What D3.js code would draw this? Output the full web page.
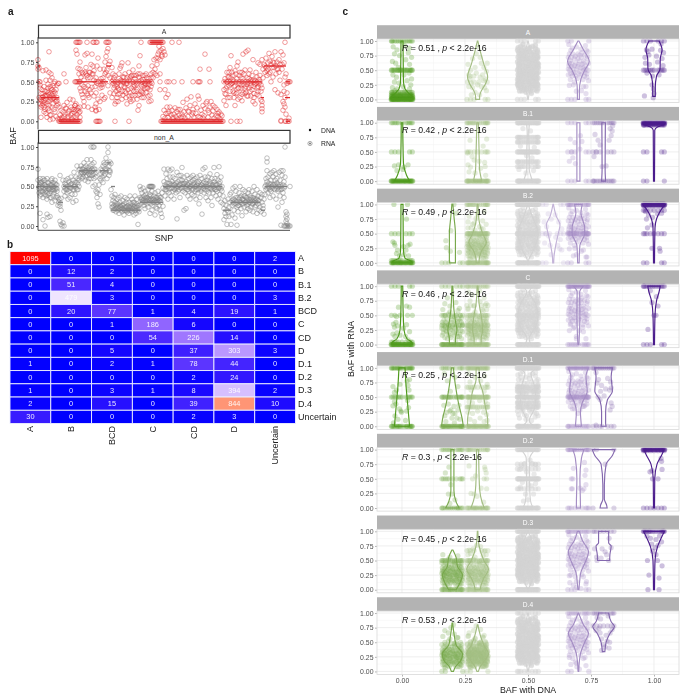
<!DOCTYPE html>
<html><head><meta charset="utf-8">
<script src="https://cdn.jsdelivr.net/npm/d3@7"></script>
<style>html,body{margin:0;padding:0;background:#fff}svg{display:block;filter:blur(.4px);font-family:"Liberation Sans",Arial,sans-serif}</style>
</head><body><svg id="c" width="689" height="700"></svg>
<script>
// ---------- panel b ----------
const heatRows=["A","B","B.1","B.2","BCD","C","CD","D","D.1","D.2","D.3","D.4","Uncertain"];
const heatCols=["A","B","BCD","C","CD","D","Uncertain"];
const heatValues=[[1095,0,0,0,0,0,2],[0,12,2,0,0,0,0],[0,51,4,0,0,0,0],[0,479,3,0,0,0,3],[0,20,77,1,4,19,1],[0,0,1,186,6,0,0],[0,0,0,54,226,14,0],[0,0,5,0,37,303,3],[1,0,2,1,78,44,0],[0,0,0,0,2,24,0],[1,0,3,1,8,394,2],[2,0,15,0,39,844,10],[30,0,0,0,2,3,0]];
// ---------- panel a: SNP rank, BAF% pairs ----------
const dnaA=[[0,2,50],[0,2,70],[3,21,30],[21,42,0],[39,59,50],[62,70,50],[68,73,70],[73,114,50],[112,125,100],[123,185,0],[185,224,50],[223,226,30],[226,248,70],[247,252,30],[248,252,50],[248,252,0]];
const dnaN=[[0,20,50],[20,25,30],[25,40,50],[41,59,70],[62,70,70],[69,73,80],[73,77,50],[73,102,20],[102,125,30],[125,184,50],[185,193,20],[193,222,30],[223,227,20],[227,249,50],[248,252,0]];
const zeroA=[21,22,23,24,25,26,27,28,29,30,31,32,33,34,35,36,37,38,39,40,41,42,58,59,60,61,62,77,91,123,124,125,126,127,128,129,130,131,132,133,134,135,136,137,138,139,140,141,142,143,144,145,146,147,148,149,150,151,152,153,154,155,156,157,158,159,160,161,162,163,164,165,166,167,168,169,170,171,172,173,174,175,176,177,178,179,180,181,182,183,184,185,193,199,202,243,247,248,250,251];
const oneA=[38,39,40,41,42,49,55,56,58,59,68,69,70,71,103,112,113,114,115,116,117,118,119,120,121,122,123,124,125,134,141,247];
const halfA=[1,2,28,37,38,39,40,41,42,58,60,62,64,66,74,77,80,83,86,89,92,95,98,101,104,107,110,113,122,129,131,136,144,155,160,161,162,172,186,189,192,195,198,201,204,207,210,213,216,219,222,250,251,252];
const snpA=[0,78,0,70,0,66,1,68,2,46,2,42,3,35,4,30,4,25,5,22,3,18,6,18,7,24,8,28,9,32,10,25,11,20,12,30,13,36,14,28,15,22,16,30,5,64,8,65,11,62,13,60,14,55,15,45,16,48,17,50,18,40,19,46,20,48,21,48,9,5,8,10,11,13,13,8,15,3,16,15,17,12,18,6,19,20,20,3,12,2,11,88,5,35,7,32,9,38,11,34,13,42,15,35,17,28,19,30,6,44,8,52,10,47,12,44,14,40,16,38,18,25,20,22,21,18,6,12,3,5,2,28,4,40,7,38,10,42,12,52,
22,8,23,14,24,5,25,12,26,20,27,9,28,16,29,24,30,6,31,13,32,28,33,18,34,10,35,27,36,6,37,20,38,14,39,8,40,17,41,11,42,5,26,60,28,17,34,3,38,22,24,3,30,3,36,15,33,8,
40,67,41,60,42,66,43,56,44,46,45,60,46,52,47,62,48,68,49,58,50,45,51,62,52,55,53,36,54,60,55,70,56,64,57,44,58,55,59,48,42,42,43,38,44,34,45,30,46,25,47,38,48,42,49,35,50,33,51,30,52,40,53,72,54,85,55,60,56,32,57,18,58,22,59,70,60,28,61,15,62,25,42,18,46,19,50,18,54,15,58,13,40,14,47,84,49,86,42,75,38,90,39,85,44,62,46,44,48,60,50,55,52,62,54,43,56,52,58,36,60,80,58,14,37,20,36,12,
62,66,63,54,64,43,65,55,66,66,67,75,68,82,69,88,70,92,71,72,72,76,68,62,70,58,72,55,63,46,65,47,67,60,69,65,62,42,66,28,70,45,72,36,64,33,67,30,
74,68,75,60,76,55,77,45,78,38,79,30,80,25,81,60,82,67,83,70,84,74,85,50,86,44,87,38,88,30,89,22,90,74,91,62,92,55,93,42,94,33,95,65,96,58,97,45,98,38,99,28,100,14,101,70,102,60,103,52,104,44,105,36,106,30,107,58,108,47,109,42,110,32,111,25,74,30,76,35,78,25,80,42,82,35,84,28,86,56,88,47,90,40,92,28,94,58,96,46,98,58,100,60,102,34,104,30,106,45,108,60,110,42,75,48,77,22,79,44,81,40,83,52,85,33,87,60,89,55,91,32,93,25,95,27,97,33,99,40,101,20,103,38,105,58,107,48,109,55,111,47,113,26,114,48,112,40,113,55,102,83,
113,60,114,70,115,62,116,78,117,66,118,80,119,72,120,85,121,88,122,78,123,90,124,82,125,92,115,55,117,60,119,58,121,95,122,60,124,84,126,88,127,84,120,80,122,40,
126,14,127,4,128,10,129,18,130,5,131,12,132,18,133,8,134,14,135,5,136,9,137,17,138,6,139,12,140,3,141,8,142,15,143,5,144,9,145,24,146,12,147,4,148,17,149,28,150,6,151,12,152,20,153,31,154,8,155,15,156,5,157,22,158,10,159,17,160,32,161,28,162,5,163,14,164,9,165,20,166,7,167,16,168,23,169,25,170,5,171,11,172,18,173,25,174,8,175,13,176,4,177,18,178,7,179,15,180,6,181,12,182,3,183,9,184,7,127,40,130,34,128,30,162,66,171,66,167,85,
186,26,187,35,188,42,189,50,190,56,191,62,192,68,193,83,194,48,195,38,196,30,197,20,198,60,199,70,200,75,201,42,202,30,203,55,204,62,205,85,206,46,207,35,208,88,209,55,210,90,211,42,212,65,213,32,214,58,215,78,216,44,217,22,218,62,219,34,220,74,221,48,222,72,223,38,186,40,188,20,190,30,192,38,194,62,196,44,198,35,200,28,202,62,204,26,206,60,208,44,210,32,212,48,214,40,216,30,218,48,220,44,222,58,224,42,189,62,191,45,193,55,195,58,197,64,199,36,201,58,203,42,205,36,207,65,209,32,211,60,213,52,215,25,217,52,219,42,221,32,223,27,
224,78,225,66,226,72,227,62,228,80,229,58,230,74,231,86,232,62,233,72,234,82,235,56,236,68,237,88,238,60,239,75,240,36,241,62,242,52,243,88,244,72,245,84,246,46,247,56,248,60,225,55,227,70,229,64,231,60,233,50,235,75,237,40,239,66,241,78,243,34,245,25,247,30,249,48,224,25,224,16,224,12,224,20,245,14,246,22,247,18,248,9,246,38,249,36,251,4,243,1];
const snpAExtra=[1,30,3,27,5,31,6,26,8,33,9,22,10,36,12,27,14,33,15,29,17,36,19,26,2,22,4,20,7,15,10,16,12,8,14,18,
75,52,77,58,79,47,81,54,83,45,85,56,87,43,89,48,91,52,93,57,95,44,97,54,99,47,101,56,103,46,105,53,107,42,109,50,111,54,113,44,76,42,80,34,84,38,88,36,92,36,96,38,100,33,104,37,108,36,112,33,
187,54,189,44,191,56,193,47,195,52,197,45,199,54,201,48,203,46,205,54,207,42,209,47,211,54,213,45,215,52,217,47,219,56,221,53,223,46,188,34,192,30,196,36,200,42,204,34,208,37,212,38,216,35,220,38,
228,68,230,66,232,76,234,68,236,74,238,70,240,66,242,72,244,66,246,74,
125,6,130,10,135,3,140,15,145,6,150,13,155,11,160,6,165,4,170,14,175,20,180,10,22,3,26,6,30,10,34,15,38,5,42,12];
const halfN=[111,112,113,114,115,113,112,114,252];
const zeroN=[246,247,248,249,250,251,252];
const snpN=[0,72,0,58,1,50,1,42,2,60,2,38,2,16,3,54,3,48,4,44,4,56,5,36,5,60,6,52,6,46,7,40,7,58,8,50,8,44,9,34,9,60,10,55,10,47,11,41,11,54,12,36,12,48,13,44,13,58,14,52,14,30,14,60,15,46,15,38,16,50,16,42,17,32,17,58,18,48,18,36,19,44,19,52,5,8,7,0,9,15,10,11,12,12,2,52,3,40,4,50,6,58,8,38,10,39,11,47,13,36,15,55,17,46,19,38,
20,36,20,26,21,34,21,30,22,28,22,25,23,35,23,20,22,6,23,2,24,0,25,4,26,0,22,64,25,58,
26,50,26,44,27,54,27,38,28,58,28,46,29,50,29,42,30,60,30,34,31,56,31,44,32,52,32,36,33,48,33,62,34,54,34,40,35,30,35,58,36,46,36,68,37,52,37,40,38,62,38,32,39,55,39,76,40,60,40,46,41,71,41,50,41,58,
42,62,42,72,43,66,43,76,44,60,44,68,45,72,45,62,46,80,46,68,47,58,47,70,48,76,48,62,49,68,49,84,50,56,50,74,51,66,51,60,52,76,52,70,53,84,53,60,54,78,54,64,55,70,55,50,56,80,56,60,57,72,57,52,58,68,58,44,59,42,59,36,60,46,60,28,61,52,61,24,62,60,62,40,63,66,63,58,64,70,64,62,65,55,65,76,66,64,66,80,67,72,67,78,68,70,68,86,69,80,69,60,70,100,70,93,71,76,71,64,72,70,72,81,72,68,73,79,53,100,55,100,56,100,
73,46,74,38,74,28,75,32,75,24,76,36,76,20,77,30,77,40,78,26,78,18,79,34,79,24,80,20,80,28,81,36,81,16,82,24,82,30,83,20,83,38,84,26,84,18,85,32,85,22,86,28,86,14,87,36,87,20,88,24,88,30,89,18,89,34,90,26,90,20,91,30,91,16,92,38,92,24,93,20,93,28,94,34,94,18,95,26,95,22,96,30,96,14,97,20,97,38,98,24,98,16,99,28,99,34,100,20,100,2,101,26,101,18,
102,50,102,36,103,46,103,28,104,42,104,34,105,30,105,48,106,38,106,26,107,44,107,22,108,32,108,40,109,28,109,36,110,46,110,24,111,34,111,30,112,40,112,16,113,28,113,38,114,44,114,20,115,34,115,26,116,38,116,30,117,42,117,14,118,32,118,24,119,36,119,22,120,30,120,44,121,26,121,38,122,20,122,32,123,16,123,36,124,42,124,11,125,25,125,48,
126,72,126,56,127,46,127,38,128,66,128,50,129,60,129,44,130,72,130,34,131,54,131,42,132,70,132,62,133,48,133,38,134,56,134,72,135,44,135,62,136,52,136,34,137,60,137,46,138,50,138,42,139,68,139,9,140,56,140,44,141,64,141,52,142,36,142,58,143,64,143,48,144,74,144,58,145,44,145,53,146,62,146,20,147,42,147,54,148,56,148,22,149,46,149,64,150,52,150,38,151,60,151,44,152,50,152,34,153,62,153,56,154,46,154,40,155,58,155,64,156,52,156,38,157,60,157,44,158,34,158,50,159,56,159,62,160,46,160,42,161,56,161,28,162,64,162,36,163,52,163,44,164,60,164,15,165,48,165,72,166,56,166,42,167,74,167,62,168,50,168,36,169,58,169,44,170,62,170,32,171,52,171,42,172,66,172,56,173,48,173,36,174,60,174,26,175,50,175,42,176,56,176,74,177,46,177,60,178,38,178,52,179,65,179,44,180,58,180,34,181,75,181,48,182,56,182,40,183,62,183,30,184,50,184,44,
185,38,185,28,186,22,186,8,187,32,187,16,188,26,188,12,189,20,189,2,190,34,190,18,191,24,191,12,192,30,192,40,193,42,193,2,194,26,194,14,195,30,195,48,196,34,196,20,197,50,197,10,198,28,198,44,199,24,199,1,200,36,200,18,201,42,201,26,202,30,202,50,203,22,203,38,204,34,204,13,205,28,205,46,206,24,206,32,207,38,207,44,208,30,208,18,209,26,209,36,210,42,210,22,211,30,211,46,212,20,212,38,213,34,213,24,214,44,214,28,215,36,215,18,216,30,216,50,217,24,217,40,218,34,218,26,219,46,219,16,220,38,220,28,221,32,221,20,222,42,222,24,223,36,223,18,224,30,224,40,225,26,225,22,226,34,226,15,
227,50,227,40,228,60,228,46,229,56,229,70,230,42,230,62,231,54,231,48,232,66,232,36,233,58,233,44,234,68,234,50,235,38,235,62,236,52,236,70,237,46,237,58,238,66,238,34,239,54,239,60,240,44,240,24,241,68,241,50,242,58,242,38,243,70,243,46,244,64,244,30,245,42,245,70,246,56,246,36,247,62,247,50,248,18,248,12,248,6,249,15,249,9,249,3,247,100,229,86,229,81,243,1];
const snpNExtra=[1,47,3,44,4,53,6,48,7,52,8,47,10,50,11,46,13,52,15,49,16,45,18,52,19,47,2,55,5,43,9,42,12,52,14,46,17,54,
27,48,28,52,29,46,31,50,32,48,33,53,35,46,36,50,37,55,38,48,39,46,40,53,
43,68,44,72,45,66,46,74,47,68,48,70,49,64,50,70,51,72,52,64,53,68,54,72,55,66,56,72,57,66,58,62,63,72,65,68,67,66,69,72,71,70,
74,24,75,20,76,26,77,22,78,22,79,28,80,24,81,22,82,26,83,24,84,22,85,26,86,20,87,24,88,20,89,24,90,22,91,24,92,20,93,24,94,22,95,30,96,24,97,28,98,20,99,24,100,26,101,22,
103,34,104,36,105,32,106,34,107,30,108,36,109,32,110,34,111,38,112,32,113,34,114,32,115,30,116,34,117,32,118,36,119,30,120,34,121,32,122,36,123,30,
127,52,128,46,129,54,130,50,131,47,132,54,133,52,134,48,135,53,136,47,137,52,138,54,139,48,140,50,141,46,142,52,143,54,144,48,145,50,146,54,147,48,148,50,149,53,150,46,151,54,152,48,153,50,154,52,155,47,156,54,157,50,158,46,159,52,160,54,161,48,162,50,163,47,164,52,165,54,166,50,167,46,168,54,169,50,170,47,171,54,172,48,173,53,174,46,175,52,176,48,177,53,178,46,179,52,180,48,181,54,182,50,183,47,
194,32,195,34,196,28,197,32,198,36,199,30,200,26,201,34,202,36,203,30,204,28,205,34,206,38,207,30,208,36,209,32,210,28,211,34,212,30,213,36,214,32,215,28,216,34,217,32,218,30,219,34,220,32,
228,52,229,48,230,52,231,50,232,46,233,53,234,48,235,52,236,47,237,53,238,50,239,47,240,52,241,46,242,52,243,50,244,47,245,52,246,48];
// ---------- panel c: clouds are [offset in 1/1000 BAF, BAF%] ----------
const cloudMid=[-40,88,-10,84,30,86,-25,78,15,76,40,72,-35,68,0,66,28,62,-18,58,38,54,-42,50,8,48,24,44,-30,40,-5,36,35,32,-20,28,12,24,-38,20,28,16,-8,12,
30,92,-30,90,5,82,-15,74,38,70,-42,64,20,60,-8,56,-28,52,32,48,-16,44,4,40,40,36,-36,34,16,30,-24,26,34,22,-6,18,-34,14,14,10,
-20,94,18,90,-38,80,34,78,-2,74,-22,68,10,64,42,60,-32,56,24,54,-12,50,36,44,-40,42,0,32,22,34,-26,32,6,28,-42,26,26,24,-14,20,40,18,
8,88,-28,84,40,80,20,72,-40,72,-12,66,32,66,-24,62,2,58,16,52,-36,46,-4,46,28,38,-20,38,10,36,38,26,-32,22,2,22,18,20,-24,14,
-6,80,24,80,-34,76,6,70,-18,70,-38,60,36,58,12,56,-26,48,20,46,-10,42,42,46,-32,36,30,30,-14,34,-40,30,8,18,36,14,-18,24,
-42,84,12,80,-24,72,28,70,-8,62,-32,62,38,62,4,52,-18,50,26,50,-38,38,14,42,-2,26,32,28,-28,20,22,28,10,14,-36,26,
38,84,-16,88,-30,74,-4,70,22,66,14,68,-38,54,-12,54,30,56,-22,42,6,44,34,40,-42,34,18,36,-10,30,-30,28,40,24,-16,16,
-26,82,2,86,26,76,-12,78,36,74,-36,58,8,60,-2,50,42,54,-20,46,14,46,-34,42,24,38,-6,40,-24,36,32,36,2,30,-40,24,20,24];
const cloudLow=[-38,60,-10,56,22,58,-30,50,8,48,36,46,-22,44,-2,42,30,40,-40,38,14,36,-14,34,38,32,-28,30,2,30,24,28,-36,26,-8,26,16,24,40,22,-24,22,4,20,30,18,-40,16,-12,16,20,14,-30,12,36,10,
-16,52,14,50,32,50,-34,42,-6,38,20,40,-20,36,6,34,40,34,-32,32,-12,30,26,32,-42,28,10,28,-2,24,34,24,-26,24,18,20,-16,18,-36,20,8,16,28,14,-6,12,-20,10,14,8,
-4,48,26,44,-26,38,10,42,36,38,-38,34,-18,28,20,30,0,34,42,26,-30,24,12,26,-10,22,24,22,-34,18,38,18,-22,16,2,14,32,12,-12,8,22,8,-28,6,
-42,46,6,44,-16,42,-30,36,30,34,-8,32,18,32,-24,28,-36,30,4,26,36,28,-14,26,14,22,-4,18,26,18,-40,22,40,16,-18,14,10,12,-32,8,
16,46,-28,46,34,42,-12,38,-40,32,2,36,24,36,-20,32,8,30,-32,26,32,26,-8,22,20,24,-26,18,0,16,16,16,-38,12,30,8];
const cloudHigh=[-38,94,-8,90,28,92,-30,84,10,86,38,82,-22,78,-2,78,24,76,-40,72,12,72,34,70,-16,70,-32,66,4,66,22,66,40,62,-26,62,-10,62,14,60,-38,58,30,58,-2,56,-20,54,18,54,-34,50,38,50,6,48,-14,46,26,46,-40,42,-24,40,10,42,34,38,-4,36,-32,34,18,34,-16,30,
-24,88,14,80,-36,78,32,84,-12,74,6,76,36,74,-28,72,-2,70,20,62,-36,62,-16,58,10,54,-28,56,30,52,0,60,-8,52,22,50,-40,52,-20,46,34,44,2,44,-10,40,24,40,-30,44,40,32,-36,24,20,22,-8,14,30,10];
const rowJitter=[-42,41,-28,30,-14,16,0,-36,36,-21,23,-7,8,-40,39,-32,33,-18,19,-10,11,-3,4,-25,27,-38,43,-34,35,-16,14,-5,6,-43,-23,25,-12,12,-30,28];
const facetNames=["A","B.1","B.2","C","D.1","D.2","D.3","D.4"];
const facetR=["0.51","0.42","0.49","0.46","0.25","0.3","0.45","0.53"];
const baseColors={0:"#4f9a1c",0.2:"#78a84c",0.3:"#a3bd82",0.5:"#d3d3d3",0.6:"#c3b3d8",0.7:"#a48dc4",0.8:"#8468ae",1:"#4b1c8c"};
// groups: x = BAF with DNA; v = violin outline [BAF RNA, half width]; r = rows [BAF RNA, points]; p = offset,% pairs; c = cloud, n = cloud points used
const groupsA=[
{x:0,v:[[1,.004],[.6,.005],[.3,.006],[.18,.012],[.1,.028],[.04,.042],[0,.043]],r:[[0,40],[.5,22],[1,14],[.02,30],[.05,28],[.08,22],[.12,14]],p:[-35,90,-20,85,10,92,30,88,-30,78,-10,75,25,80,38,72,-38,65,-25,62,15,68,30,60,-15,55,-36,42,-22,38,8,42,28,45,38,35,-30,30,-12,28,20,32,35,25,-38,20,-20,18,5,22,30,18,-28,15,12,14]},
{x:.3,v:[[1,.001],[.8,.012],[.6,.025],[.38,.04],[.28,.033],[.12,.012],[.05,.008],[0,.008]],r:[[0,5]],p:[-40,30,-30,35,-25,28,-35,42,-15,40,-5,45,10,38,20,42,30,35,38,30,35,48,25,55,15,62,38,62,-28,50,-10,55,5,30,-20,20,-35,22,0,25,15,22,28,20,-10,12,8,8,-25,8,35,15,-38,60,-5,78,10,72,-20,70,0,90,-15,30,24,32,-30,40]},
{x:.5,v:[[1,.001],[.85,.01],[.7,.03],[.5,.04],[.3,.03],[.15,.008],[0,.001]],r:[[1,5],[0,5]],c:cloudMid,n:999,c2:cloudMid},
{x:.7,v:[[1,.002],[.85,.02],[.65,.043],[.5,.025],[.35,.01],[.15,.004],[0,.004]],r:[[0,5],[1,3]],c:cloudHigh,n:70,p:[-20,25,30,22,12,15]},
{x:1,v:[[1,.02],[.85,.032],[.7,.025],[.52,.024],[.4,.01],[.2,.005],[.05,.005]],r:[[1,6],[.5,12]],p:[-30,85,-24,82,-8,86,26,84,38,80,-36,72,-20,76,10,74,32,70,-34,62,-18,60,14,64,36,58,-28,45,-6,40,20,42,-8,25,-2,18,0,10,-38,6,-3,3,28,95]}];
const groupsB1=[
{x:0,v:[[1,.003],[.6,.004],[.3,.006],[.1,.018],[0,.03]],r:[[0,40],[1,11],[.5,5]],p:[-30,26,-14,28,8,24,24,28,4,20,-20,18]},
{x:.3,v:[[1,.003],[.5,.006],[.2,.008],[.05,.014],[0,.016]],r:[[0,34],[1,18],[.5,9]],p:[-40,48,-22,42,-14,36,6,34,28,32,-38,28,-28,24,12,22,30,25,-34,16,-10,14,32,10,36,72,-30,70,22,60]},
{x:.5,v:[[1,.006],[.8,.003],[.5,.005],[.2,.005],[.05,.014],[0,.018]],r:[[1,30],[.75,16],[.67,15],[.5,24],[.33,14],[.25,10],[0,28]],p:[-20,90,10,86,-30,60,25,58,-6,44,16,40,-36,20,-8,14,22,18]},
{x:.7,v:[[1,.006],[0,.006]],r:[[1,5],[.5,5],[0,5]],p:[-32,72,-14,66,8,78,-22,40,-12,30,-26,50,14,68,-36,34,6,55]},
{x:.8,v:[[1,.007],[.2,.006],[0,.008]],r:[[1,12],[0,14],[.5,6]],p:[-34,80,-22,70,-14,62,26,90,34,86,30,78,22,70,-30,50,-38,42,10,26,-6,25,36,95]},
{x:1,v:[[1,.045],[.97,.04],[.93,.015],[.87,.003],[0,.002]],r:[[1,40],[.98,24],[.96,14],[0,3],[.5,4]],p:[]}];
const groupsB2=[
{x:0,v:[[1,.004],[.4,.005],[.2,.006],[.08,.012],[.03,.035],[0,.04]],r:[[0,32],[.5,6],[.04,12]],p:[-36,36,-30,34,-28,30,16,22,24,30,32,32,-22,16,-10,12,8,14,26,12,-18,22,18,75,6,28,-32,100,22,100]},
{x:.2,v:[[1,.002],[.8,.006],[.5,.012],[.2,.012],[.1,.012],[0,.012]],r:[[0,5]],p:[-26,38,-24,26,-6,55,-8,20,28,18,6,100,16,85]},
{x:.3,v:[[1,.002],[.75,.005],[.5,.02],[.35,.035],[.2,.015],[.05,.006],[0,.006]],r:[[1,18],[.5,26],[0,30]],c:cloudLow,n:170,p:[-38,70,-14,68,20,72,34,66,-26,60,8,62,-34,80,26,88,-6,76,0,84,14,58,-20,66]},
{x:.5,v:[[1,.001],[.85,.012],[.5,.04],[.2,.02],[.03,.002],[0,.002]],r:[[1,36],[0,30],[.5,14]],c:cloudMid,n:200},
{x:.6,v:[[1,.001],[.8,.012],[.65,.027],[.5,.02],[.3,.01],[.1,.003],[0,.002]],r:[[1,4],[0,3],[.5,6]],p:[-36,70,-26,62,-8,75,8,82,22,70,34,58,-30,50,-18,46,10,44,28,40,-34,34,-12,30,18,30,-20,84,26,24,-8,14,34,22]},
{x:.7,v:[[1,.015],[.85,.01],[.6,.025],[.5,.025],[.3,.006],[0,.003]],r:[[1,16],[.5,20],[0,4]],c:cloudHigh,n:170,p:[-14,25,12,20,34,10,-20,12]},
{x:1,v:[[1,.045],[.95,.035],[.85,.02],[.75,.01],[.6,.004],[0,.002]],r:[[1,40],[.98,16],[.5,8],[0,4],[.9,8]],p:[-30,75,-22,82,-6,78,14,84,-34,88,30,85,-8,65,-26,60,22,25,24,20,-8,25]}];
const groupsC=[
{x:0,v:[[1,.003],[.5,.005],[.25,.008],[.1,.02],[.03,.04],[0,.04]],r:[[0,40],[.04,10],[.5,3],[1,5]],p:[-34,35,-24,38,-30,30,-18,32,6,28,18,34,-36,18,-28,14,-20,20,-8,16,14,14,24,8,-14,64,18,66,30,64,-8,50,22,50,-22,48,30,22]},
{x:.2,v:[[1,.002],[.6,.006],[.4,.012],[.25,.018],[.1,.012],[0,.012]],r:[[0,36],[1,6],[.5,8],[.33,7]],c:cloudLow,n:60,p:[-30,70,-20,80,-10,66,14,72,28,62]},
{x:.3,v:[[1,.002],[.7,.006],[.45,.016],[.25,.02],[.1,.014],[0,.014]],r:[[0,36],[1,14],[.5,12],[.33,8],[.67,6]],c:cloudLow,n:110,p:[-36,90,-22,85,8,92,26,80,-30,75,10,74,34,70,-14,66,18,60,-38,62,36,60]},
{x:.5,v:[[1,.02],[.9,.005],[.7,.03],[.5,.04],[.3,.03],[.1,.004],[0,.012]],r:[[1,32],[0,28],[.5,8]],c:cloudMid,n:240},
{x:.7,v:[[1,.02],[.9,.005],[.5,.006],[.3,.005],[0,.002]],r:[[1,30],[0,12]],c:cloudHigh,n:130,p:[-20,28,4,24,18,30,-30,36,-8,10]},
{x:1,v:[[1,.025],[.9,.02],[.75,.01],[.5,.004],[0,.002]],r:[[1,14],[0,5]],p:[-24,26,16,66,0,50,8,50,-8,72,10,82,-14,92]}];
const groupsD1=[
{x:0,v:[[1,.012],[.7,.016],[.3,.024],[0,.03]],r:[[1,20],[0,20],[.5,12]],p:[-36,68,-22,62,20,78,30,80,24,70,-30,58,-30,42,-24,38,-10,30,-4,26,-2,24,26,32,18,26,-28,18,-16,12,14,10,-34,6,28,62,-8,72,22,44,-36,35]},
{x:.2,v:[[1,.004],[.7,.012],[.4,.024],[.1,.04],[0,.043]],r:[[1,10],[.5,20],[0,30]],p:[-32,90,-20,78,10,84,22,68,-8,60,-34,36,-16,38,6,34,26,36,-22,24,-10,26,10,22,22,28,-30,18,-2,14,18,14,30,12,-26,8,8,6,-6,28,2,22]},
{x:.3,v:[[1,.006],[.8,.006],[.6,.02],[.35,.03],[.1,.04],[0,.04]],r:[[1,26],[.5,30],[0,32],[.33,16],[.67,10]],p:[-36,90,-10,84,28,86,-30,76,12,78,-26,62,26,60,38,72,-34,42,-20,40,8,44,30,42,40,38,-38,24,-20,22,0,26,24,24,36,20,-30,12,10,14,38,10,-12,8,26,8]},
{x:.5,v:[[1,.035],[.9,.012],[.7,.025],[.5,.03],[.3,.025],[.1,.005],[.03,.015],[0,.035]],r:[[1,34],[0,28],[.67,18],[.6,14],[.5,24],[.4,14],[.33,14]],c:cloudMid,n:70},
{x:.7,v:[[1,.04],[.85,.03],[.6,.035],[.4,.015],[.25,.008],[.1,.01],[0,.012]],r:[[1,22],[.5,22],[0,14]],c:cloudHigh,n:60,p:[-30,46,-14,38,14,40,26,36,-24,30,6,28,22,34,-2,22]},
{x:.8,v:[[1,.035],[.85,.03],[.6,.035],[.45,.015],[.25,.008],[.05,.008],[0,.01]],r:[[1,14],[0,6]],p:[-30,92,-20,80,-8,70,16,82,28,76,-12,60,8,64,24,62,30,66,-26,74,2,52,-22,50,-14,46,30,40,34,34,26,28,-6,0,-30,2]}];
const groupsD2=[
{x:.2,v:[[1,.006],[.3,.006],[.1,.015],[0,.027]],r:[[1,12],[.5,10],[0,14]],p:[-28,60,-14,70,-6,40,-16,24,-2,24,10,14,-10,8,22,0]},
{x:.3,v:[[1,.004],[.4,.007],[.2,.012],[.05,.022],[0,.027]],r:[[1,16],[0,22]],p:[28,70,30,66,-34,72,26,50,-20,50,-8,55,14,34,36,33,36,50,-26,25,-14,24,-2,20,24,10,34,60]},
{x:.5,v:[[1,.028],[.85,.007],[.5,.006],[.3,.007],[.12,.01],[0,.02]],r:[[1,24],[0,24],[.5,28],[.67,6],[.33,8],[.75,6]],p:[-26,72,-14,76,18,76,30,74,-34,66,-6,62,24,58,30,42,-22,44,2,40,-30,36,14,38,-10,24,22,24,0,14,-18,12,-4,68,8,82]},
{x:.7,v:[[1,.022],[.85,.012],[.5,.006],[.05,.008],[0,.008]],r:[[1,18],[0,9]],p:[-28,50,-24,33,-22,50,24,78,30,65,26,56,-20,68,-28,33,30,40,22,33,6,34,16,30]},
{x:.8,v:[[1,.045],[.9,.035],[.75,.01],[.4,.003],[.15,.003],[.05,.012],[0,.014]],r:[[1,3],[0,2]],p:[6,75]},
{x:1,v:[[1,.04],[.92,.032],[.75,.012],[.5,.003],[0,.002]],r:[[1,40],[.98,8],[0,7]],p:[-16,62,-8,64,32,66,30,80,16,50,-6,50,28,85]}];
const groupsD3=[
{x:.2,v:[[.68,.002],[.55,.015],[.4,.02],[.25,.04],[.12,.03],[0,.015]],r:[[.5,14],[0,22]],c:cloudLow,n:999},
{x:.3,v:[[1,.001],[.75,.006],[.5,.025],[.35,.043],[.2,.025],[.05,.012],[0,.01]],r:[[.5,16],[0,22],[.67,6]],c:cloudLow,n:999,p:[-34,68,-18,70,12,74,26,66,34,60,-4,76,-28,62]},
{x:.5,v:[[1,.001],[.85,.015],[.5,.04],[.15,.015],[0,.001]],r:[[1,22],[0,26]],c:cloudMid,n:999,c2:cloudMid},
{x:.7,v:[[1,.004],[.85,.015],[.65,.04],[.45,.025],[.3,.01],[.1,.004],[0,.002]],r:[[1,14],[0,5]],c:cloudHigh,n:110,p:[-30,25,-12,22,14,26,-34,12,-20,8,-8,4,10,2,32,14]},
{x:.8,v:[[1,.02],[.8,.02],[.75,.03],[.6,.025],[.5,.024]],r:[[1,8]],p:[-28,56,-6,70,6,65,12,60,-10,54,20,50,-26,50,30,72,-36,70,22,88]},
{x:1,v:[[1,.042],[.9,.03],[.75,.015],[.5,.004],[0,.002]],r:[[1,18]],p:[-28,92,-14,88,8,86,22,92,30,82,-10,78,4,72,16,76,-6,66,8,60,-26,50,14,50,32,41,-20,25,20,20,-24,0,20,0]}];
const groupsD4=[
{x:.2,v:[[.83,.001],[.6,.008],[.45,.015],[.3,.04],[.2,.035],[.08,.012],[0,.004]],r:[[0,3]],c:cloudLow,n:999,p:[-30,70,-16,66,8,64,20,58,-6,75,4,80]},
{x:.3,v:[[.8,.001],[.6,.012],[.45,.025],[.3,.043],[.2,.03],[.08,.01],[0,.003]],r:[[0,3]],c:cloudLow,n:999,c2:cloudLow,p:[-34,66,-16,70,12,72,26,62,-6,78]},
{x:.5,v:[[1,.001],[.8,.012],[.5,.04],[.2,.012],[0,.001]],r:[[1,8],[0,8]],c:cloudMid,n:999,c2:cloudMid},
{x:.7,v:[[1,.001],[.8,.02],[.65,.04],[.5,.025],[.3,.008],[0,.001]],r:[[1,12],[0,3]],c:cloudHigh,n:130,p:[-36,28,-22,22,-12,16,8,28,26,24,-30,12,-6,8,4,4]},
{x:.8,v:[[1,.02],[.85,.03],[.77,.043],[.65,.025],[.5,.01],[.34,.005]],r:[[1,10],[.78,7]],p:[-26,92,-12,90,18,95,-30,70,-14,66,10,62,26,66,34,72,-8,56,14,52,24,50,-18,74,-2,46,6,42,22,40,-8,36]}];
const facetGroups=[groupsA,groupsB1,groupsB2,groupsC,groupsD1,groupsD2,groupsD3,groupsD4];
const bafTicks=[0,.25,.5,.75,1];
const bafMinor=[.125,.375,.625,.875];

const pairs=f=>{const o=[];for(let i=0;i+1<f.length;i+=2)o.push([f[i],f[i+1]]);return o;};
const svg=d3.select("#c");
const txt=(g,x,y,s,o={})=>g.append("text").attr("x",x).attr("y",y).attr("text-anchor",o.a||"middle").attr("dominant-baseline","central").attr("font-size",o.s||8).attr("font-weight",o.w||null).attr("fill",o.f||"#1a1a1a").attr("transform",o.r?`rotate(${o.r} ${x} ${y})`:null).text(s);
txt(svg,8,11,"a",{s:10,w:"bold",a:"start"});
txt(svg,7,244,"b",{s:10,w:"bold",a:"start"});
txt(svg,342.5,11,"c",{s:10,w:"bold",a:"start"});

// ----- panel a -----
const xSnp=d3.scaleLinear().domain([0,252]).range([38,290]);
function snpPanel(name,stripTop,y1,y0,axisEnd,colour,ptsList,segs,ringOp){
  const y=d3.scaleLinear().domain([0,1]).range([y0,y1]);
  const g=svg.append("g");
  g.append("rect").attr("x",38.5).attr("y",stripTop).attr("width",251.5).attr("height",12.8).attr("fill","#fff").attr("stroke","#333").attr("stroke-width",1.2);
  txt(g,164,stripTop+6.6,name,{s:6.9,f:"#333"});
  g.selectAll("circle.snp").data(ptsList).join("circle").attr("class","snp")
    .attr("cx",d=>xSnp(d[0])).attr("cy",d=>y(d[1]/100)).attr("r",2.3).attr("fill","none").attr("stroke",colour).attr("stroke-width",.9).attr("stroke-opacity",ringOp);
  g.selectAll("line.seg").data(segs).join("line").attr("class","seg")
    .attr("x1",d=>xSnp(d[0])).attr("x2",d=>xSnp(d[1])).attr("y1",d=>y(d[2]/100)).attr("y2",d=>y(d[2]/100)).attr("stroke",colour).attr("stroke-width",1.3);
  const ax=g.append("g").attr("transform","translate(38,0)").call(d3.axisLeft(y).tickValues(bafTicks).tickFormat(d3.format(".2f")).tickSize(2).tickPadding(1.5));
  ax.select(".domain").remove();
  ax.selectAll("text").attr("font-size",7.1).attr("font-family","inherit").attr("fill","#4d4d4d");
  ax.selectAll("line").attr("stroke","#444");
  g.append("line").attr("x1",38).attr("x2",38).attr("y1",stripTop+12).attr("y2",axisEnd).attr("stroke","#333").attr("stroke-width",.9);
}
const ptsA=[...pairs(snpA),...pairs(snpAExtra),...zeroA.map(x=>[x,0]),...oneA.map(x=>[x,100]),...halfA.map(x=>[x,50])];
const ptsN=[...pairs(snpN),...pairs(snpNExtra),...zeroN.map(x=>[x,0]),...halfN.map(x=>[x,50])];
snpPanel("A",25.2,42.3,121.3,129.4,"#e0272b",ptsA,dnaA,.5);
snpPanel("non_A",130.4,147,226,230.3,"#808080",ptsN,dnaN,.55);
svg.append("line").attr("x1",38).attr("x2",290).attr("y1",230.3).attr("y2",230.3).attr("stroke","#333").attr("stroke-width",.9);
txt(svg,13,136,"BAF",{s:9,r:-90});
txt(svg,164,238,"SNP",{s:9});
svg.append("circle").attr("cx",310).attr("cy",130).attr("r",1.2).attr("fill","#111");
svg.append("circle").attr("cx",310).attr("cy",143.5).attr("r",2.1).attr("fill","none").attr("stroke","#888").attr("stroke-width",.7);
svg.append("circle").attr("cx",310).attr("cy",143.5).attr("r",1).attr("fill","#777");
txt(svg,321,130,"DNA",{s:6.8,a:"start"});
txt(svg,321,143.5,"RNA",{s:6.8,a:"start"});

// ----- panel b -----
const xH=d3.scaleBand().domain(heatCols).range([10,295.5]);
const yH=d3.scaleBand().domain(heatRows).range([251.5,423.5]);
const fillH=d3.scaleLinear().domain([0,540,1095]).range(["#0000ff","#ffffff","#ff0000"]).interpolate(d3.interpolateLab);
const cells=heatValues.flatMap((row,i)=>row.map((v,j)=>({r:heatRows[i],c:heatCols[j],v})));
const gH=svg.append("g");
gH.selectAll("rect").data(cells).join("rect").attr("x",d=>xH(d.c)).attr("y",d=>yH(d.r)).attr("width",xH.bandwidth()).attr("height",yH.bandwidth()).attr("fill",d=>fillH(d.v)).attr("stroke","#eef0ff").attr("stroke-width",.9);
gH.selectAll("text.v").data(cells).join("text").attr("class","v").attr("x",d=>xH(d.c)+xH.bandwidth()/2).attr("y",d=>yH(d.r)+yH.bandwidth()/2).attr("text-anchor","middle").attr("dominant-baseline","central").attr("font-size",7.4).attr("fill","#fff").attr("fill-opacity",.9).text(d=>d.v);
heatRows.forEach(r=>txt(gH,298,yH(r)+yH.bandwidth()/2,r,{s:9,a:"start",f:"#222"}));
heatCols.forEach(c=>txt(gH,xH(c)+xH.bandwidth()/2,426,c,{s:9,a:"end",f:"#222",r:-90}));

// ----- panel c -----
const xC=d3.scaleLinear().domain([0,1]).range([402,654]);
const facetTop=i=>41+i*81.72;
facetNames.forEach((name,i)=>{
  const t=facetTop(i);
  const y=d3.scaleLinear().domain([0,1]).range([t+58.4,t]);
  const g=svg.append("g");
  const L=377,R=679,T=t-2,B=t+61.5;
  g.append("rect").attr("x",L).attr("y",t-15.8).attr("width",R-L).attr("height",13.8).attr("fill","#b3b3b3");
  txt(g,528,t-8.8,name,{s:6.6,f:"#fff"});
  g.selectAll("line.gm").data(bafMinor).join("line").attr("class","gm").attr("x1",L).attr("x2",R).attr("y1",d=>y(d)).attr("y2",d=>y(d)).attr("stroke","#f2f2f2").attr("stroke-width",.5);
  g.selectAll("line.gvm").data(bafMinor).join("line").attr("class","gvm").attr("y1",T).attr("y2",B).attr("x1",d=>xC(d)).attr("x2",d=>xC(d)).attr("stroke","#f2f2f2").attr("stroke-width",.5);
  g.selectAll("line.gy").data(bafTicks).join("line").attr("class","gy").attr("x1",L).attr("x2",R).attr("y1",d=>y(d)).attr("y2",d=>y(d)).attr("stroke","#e6e6e6").attr("stroke-width",.7);
  g.selectAll("line.gx").data(bafTicks).join("line").attr("class","gx").attr("y1",T).attr("y2",B).attr("x1",d=>xC(d)).attr("x2",d=>xC(d)).attr("stroke","#e6e6e6").attr("stroke-width",.7);
  const ax=g.append("g").attr("transform",`translate(${L},0)`).call(d3.axisLeft(y).tickValues(bafTicks).tickFormat(d3.format(".2f")).tickSize(2).tickPadding(1.5));
  ax.select(".domain").remove();
  ax.selectAll("text").attr("font-size",6.9).attr("font-family","inherit").attr("fill","#4d4d4d");
  ax.selectAll("line").attr("stroke","#b3b3b3");
  if(i===facetNames.length-1){
    const bx=g.append("g").attr("transform",`translate(0,${B})`).call(d3.axisBottom(xC).tickValues(bafTicks).tickFormat(d3.format(".2f")).tickSize(2).tickPadding(2));
    bx.select(".domain").remove();
    bx.selectAll("text").attr("font-size",6.9).attr("font-family","inherit").attr("fill","#4d4d4d");
    bx.selectAll("line").attr("stroke","#b3b3b3");
  }
  const area=d3.area().y(d=>y(d[0])).curve(d3.curveMonotoneY);
  facetGroups[i].forEach(gr=>{
    const col=baseColors[gr.x];
    let pts=pairs(gr.p||[]).map(d=>[d[0]/1000,d[1]/100]);
    if(gr.c)pts=pts.concat(pairs(gr.c).slice(0,gr.n).map(d=>[d[0]/1000,d[1]/100]));
    if(gr.c2)pts=pts.concat(pairs(gr.c2).map(d=>[d[0]/1000*.96,d[1]/100+.012]));
    (gr.r||[]).forEach(([ry,n])=>rowJitter.slice(0,n).forEach(j=>pts.push([j/1000,ry])));
    g.append("g").selectAll("circle").data(pts).join("circle").attr("cx",d=>xC(gr.x+d[0])).attr("cy",d=>y(d[1])).attr("r",2.6).attr("fill",col).attr("fill-opacity",gr.x===.5?.5:.28);
    g.append("path").datum(gr.v).attr("d",area.x0(d=>xC(gr.x-d[1])).x1(d=>xC(gr.x+d[1]))).attr("fill","none").attr("stroke",col).attr("stroke-width",1.15);
  });
  g.append("rect").attr("x",L).attr("y",T).attr("width",R-L).attr("height",B-T).attr("fill","none").attr("stroke","#d9d9d9").attr("stroke-width",.8);
  const note=g.append("text").attr("x",402).attr("y",t+7.4).attr("dominant-baseline","central").attr("font-size",8.7).attr("fill","#111");
  note.append("tspan").attr("font-style","italic").text("R");
  note.append("tspan").text(` = ${facetR[i]} , `);
  note.append("tspan").attr("font-style","italic").text("p");
  note.append("tspan").text(" < 2.2e-16");
});
txt(svg,351,349,"BAF with RNA",{s:8.8,r:-90});
txt(svg,528,690,"BAF with DNA",{s:8.8});
</script></body></html>
